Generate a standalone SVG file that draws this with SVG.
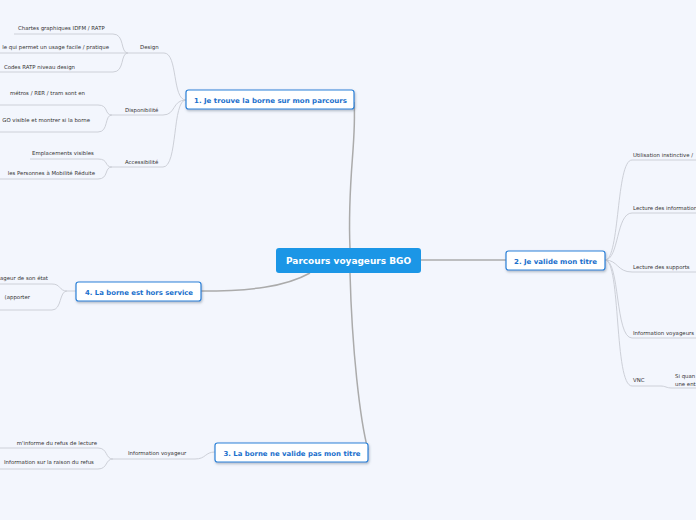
<svg xmlns="http://www.w3.org/2000/svg" width="696" height="520" viewBox="0 0 696 520">
<defs>
<filter id="sh" x="-10%" y="-30%" width="120%" height="170%"><feDropShadow dx="0.8" dy="1.5" stdDeviation="0.8" flood-color="#5a6a80" flood-opacity="0.45"/></filter>
<style>
.bg{fill:#f3f6fd}
.main{fill:none;stroke:#ababab;stroke-width:1.5}
.thin{fill:none;stroke:#cdd0d8;stroke-width:1}
.box{fill:#ffffff;stroke:#2b82d9;stroke-width:1.2}
.nt{font-family:"DejaVu Sans",Verdana,sans-serif;font-weight:bold;font-size:6.8px;fill:#1a6fcc;text-anchor:middle}
.ct{font-family:"DejaVu Sans",Verdana,sans-serif;font-weight:bold;font-size:8.6px;fill:#ffffff;text-anchor:middle}
.t{font-family:"DejaVu Sans",Verdana,sans-serif;font-size:5.4px;fill:#333333}
.e{text-anchor:end}
</style>
</defs>
<rect class="bg" x="0" y="0" width="696" height="520"/>
<g id="connectors">
<path class="main" d="M350,248 C347,180 357,140 354,102"/>
<path class="main" d="M421,260 L506,260"/>
<path class="main" d="M350,273 C352,350 360,420 368,450"/>
<path class="main" d="M310,273 C285,287 250,291 201,291"/>
<path class="thin" d="M186,100 C172,100 178,53 164,53 L128,53"/>
<path class="thin" d="M186,100 C172,100 176,115 163,115 L112,115"/>
<path class="thin" d="M186,100 C172,100 178,167 163,167 L112,167"/>
<path class="thin" d="M128,53 C120,53 125,34 113,34 L14,34"/>
<path class="thin" d="M128,53 L0,53"/>
<path class="thin" d="M128,53 C120,53 125,72 113,72 L0,72"/>
<path class="thin" d="M112,115 C104,115 109,105 98,105 L0,105"/>
<path class="thin" d="M112,115 C104,115 109,132 98,132 L0,132"/>
<path class="thin" d="M112,167 C104,167 109,159 98,159 L30,159"/>
<path class="thin" d="M112,167 C104,167 109,179 98,179 L0,179"/>
<path class="thin" d="M76,291 L67,291 C59,291 61,284 52,284 L0,284"/>
<path class="thin" d="M67,291 C59,291 62,310 52,310 L0,310"/>
<path class="thin" d="M215,452 C205,452 206,459 195,459 L113,459"/>
<path class="thin" d="M113,459 C105,459 108,448 98,448 L0,448"/>
<path class="thin" d="M113,459 C105,459 108,469 98,469 L0,469"/>
<path class="thin" d="M605,260 C620,260 616,160 632,160 L696,160"/>
<path class="thin" d="M605,260 C619,260 616,213 632,213 L696,213"/>
<path class="thin" d="M605,260 C618,260 617,272 632,272 L696,272"/>
<path class="thin" d="M605,260 C620,260 615,338 632,338 L696,338"/>
<path class="thin" d="M605,260 C621,260 614,386 632,386 L660,386 C666,386 666,388 672,388 L696,388"/>
</g>
<g id="central">
<rect x="276" y="248" width="145" height="25" rx="3" fill="#1b96e6"/>
<text class="ct" x="348.5" y="264" textLength="125" lengthAdjust="spacingAndGlyphs">Parcours voyageurs BGO</text>
</g>
<g id="node1">
<rect class="box" x="186" y="90" width="168" height="19" rx="2.5" filter="url(#sh)"/>
<text class="nt" x="270.5" y="102.5" textLength="153" lengthAdjust="spacingAndGlyphs">1. Je trouve la borne sur mon parcours</text>
</g>
<g id="node2">
<rect class="box" x="506" y="251" width="99" height="19" rx="2.5" filter="url(#sh)"/>
<text class="nt" x="555.5" y="263.5" textLength="83" lengthAdjust="spacingAndGlyphs">2. Je valide mon titre</text>
</g>
<g id="node3">
<rect class="box" x="215" y="443" width="153" height="19" rx="2.5" filter="url(#sh)"/>
<text class="nt" x="292" y="455.5" textLength="137" lengthAdjust="spacingAndGlyphs">3. La borne ne valide pas mon titre</text>
</g>
<g id="node4">
<rect class="box" x="76" y="282" width="125" height="19" rx="2.5" filter="url(#sh)"/>
<text class="nt" x="139" y="294.5" textLength="108" lengthAdjust="spacingAndGlyphs">4. La borne est hors service</text>
</g>
<g id="design">
<text class="t" x="140" y="49">Design</text>
<text class="t" x="18" y="30">Chartes graphiques IDFM / RATP</text>
<text class="t e" x="109" y="49">le qui permet un usage facile / pratique</text>
<text class="t e" x="75" y="69">Codes RATP niveau design</text>
</g>
<g id="disponibilite">
<text class="t" x="125" y="112">Disponibilité</text>
<text class="t e" x="85" y="95">métros / RER / tram sont en</text>
<text class="t e" x="90" y="122">GO visible et montrer si la borne</text>
</g>
<g id="accessibilite">
<text class="t" x="125" y="164">Accessibilité</text>
<text class="t" x="32" y="155">Emplacements visibles</text>
<text class="t e" x="95" y="175">les Personnes à Mobilité Réduite</text>
</g>
<g id="hors-service">
<text class="t e" x="48" y="280">ageur de son état</text>
<text class="t e" x="30" y="299">(apporter</text>
</g>
<g id="info-voyageur">
<text class="t" x="128" y="455">Information voyageur</text>
<text class="t e" x="97" y="445">m'informe du refus de lecture</text>
<text class="t" x="4" y="464">Information sur la raison du refus</text>
</g>
<g id="valide-children">
<text class="t" x="633" y="157">Utilisation instinctive /</text>
<text class="t" x="633" y="210">Lecture des informations</text>
<text class="t" x="633" y="269">Lecture des supports</text>
<text class="t" x="633" y="335">Information voyageurs</text>
<text class="t" x="633" y="382">VNC</text>
<text class="t" x="675" y="378">Si quan</text>
<text class="t" x="675" y="385.5">une ent</text>
</g>
</svg>
